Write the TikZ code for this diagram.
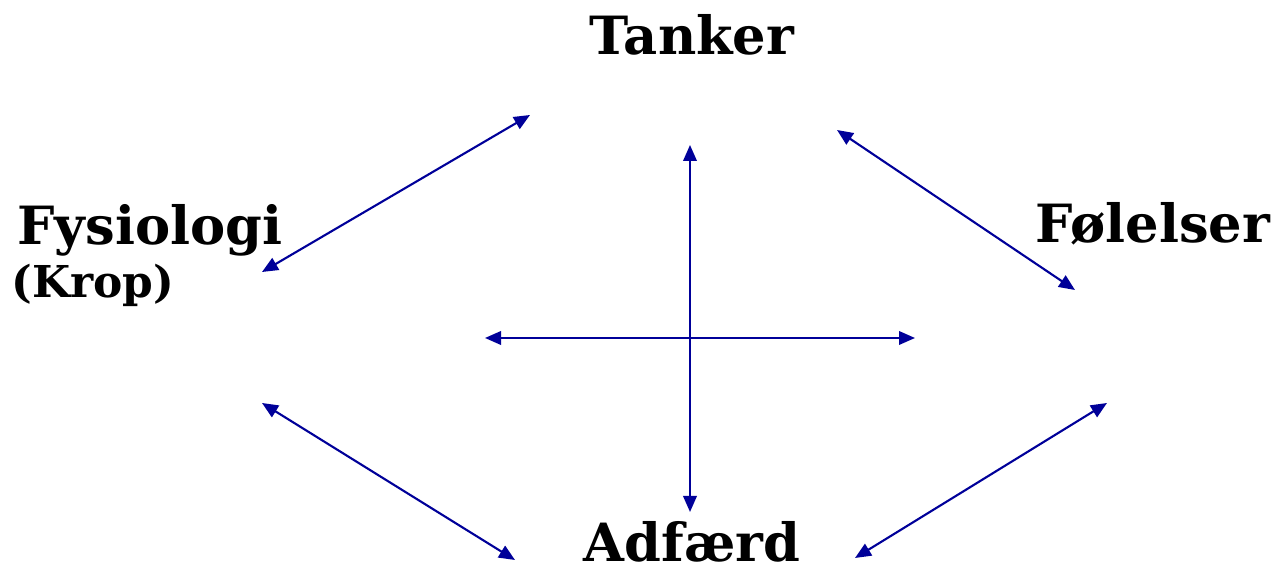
\documentclass[tikz,border=0pt]{standalone}
\usepackage{fontspec}
\setmainfont{DejaVu Serif}
\usetikzlibrary{arrows.meta}
\definecolor{arrowblue}{RGB}{0,0,153}
\tikzset{
  label/.style={font=\fontsize{30}{34}\selectfont\bfseries, inner sep=0pt, anchor=base},
  link/.style={draw=arrowblue, line width=1.2pt,
    {Triangle[length=0.32cm,width=0.27cm]}-{Triangle[length=0.32cm,width=0.27cm]}},
}
\begin{document}
\begin{tikzpicture}[x=0.02cm,y=-0.02cm]
  \useasboundingbox (0,0) rectangle (1276,570);
  % words
  \node[label] (tanker) at (692,55) {Tanker};
  \node[label] (fysiologi) at (150,245) {Fysiologi};
  \node[label, font=\fontsize{25}{28}\selectfont\bfseries] (krop) at (93,298) {(Krop)};
  \node[label] (folelser) at (1153,243) {Følelser};
  \node[label] (adfaerd) at (692,562) {Adfærd};
  % arrow ends
  \coordinate (a1) at (262,272);  \coordinate (b1) at (530,115);
  \coordinate (a2) at (690,145);  \coordinate (b2) at (690,512);
  \coordinate (a3) at (485,338);  \coordinate (b3) at (915,338);
  \coordinate (a4) at (837,130);  \coordinate (b4) at (1075,290);
  \coordinate (a5) at (262,403);  \coordinate (b5) at (515,560);
  \coordinate (a6) at (855,558);  \coordinate (b6) at (1107,403);
  \foreach \i in {1,...,6}{
    \draw[link] (a\i) -- (b\i);
  }
\end{tikzpicture}
\end{document}
